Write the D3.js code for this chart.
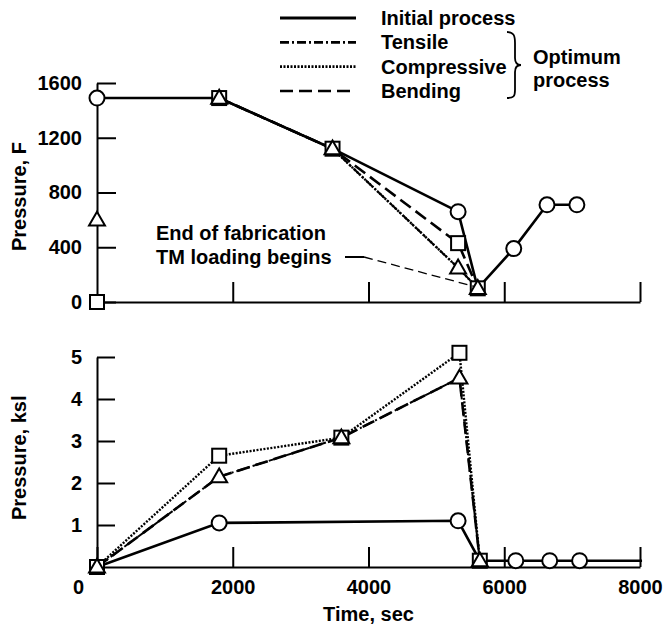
<!DOCTYPE html>
<html>
<head>
<meta charset="utf-8">
<script src="https://cdn.jsdelivr.net/npm/d3@7"></script>
<style>
  body { margin: 0; background: #fff; }
  svg text { font-family: "Liberation Sans", Arial, sans-serif; font-weight: bold; fill: #000; }
</style>
</head>
<body>
<div id="vis"></div>
<script>
// Constants for the frame
const FRAME_WIDTH = 663;
const FRAME_HEIGHT = 629;
const FONT = 20;

// tick values
const TIME_TICKS = [0, 2000, 4000, 6000, 8000];
const TEMP_TICKS = [0, 400, 800, 1200, 1600];
const PRESS_TICKS = [1, 2, 3, 4, 5];

// top panel (temperature, labelled "Pressure, F")
const INIT_TOP_TIME = [0, 1800, 3470, 5320, 5610, 6140, 6630, 7070];
const INIT_TOP_VAL = [1490, 1490, 1120, 660, 100, 390, 710, 710];
const OPT_TOP_TIME = [1800, 3470, 5320, 5610];
const TENSILE_TOP = [1490, 1120, 250, 100];
const COMPRESSIVE_TOP = [1490, 1120, 250, 100];
const BENDING_TOP = [1490, 1120, 430, 100];
const START_SQUARE_TOP = 0;
const START_TRIANGLE_TOP = 600;

// bottom panel (pressure, ksi)
const INIT_BOT_TIME = [0, 1800, 5320, 5640, 6170, 6670, 7110, 8030];
const INIT_BOT_VAL = [0, 1.05, 1.1, 0.15, 0.15, 0.15, 0.15, 0.15];
const INIT_BOT_CIRCLES = [1, 2, 4, 5, 6];
const OPT_BOT_TIME = [0, 1800, 3600, 5340, 5640];
const TENSILE_BOT = [0, 2.15, 3.08, 4.5, 0.15];
const COMPRESSIVE_BOT = [0, 2.65, 3.08, 5.1, 0.15];
const BENDING_BOT = [0, 2.15, 3.08, 4.5, 0.15];

// legend
const LEGEND_LABELS = ["Initial process", "Tensile", "Compressive", "Bending"];
const DASHES = {solid: null, dashdot: "9,3,2,3", dotted: "2,1.5", dashed: "13,6"};
const LEGEND_STYLES = ["solid", "dashdot", "dotted", "dashed"];

const FRAME = d3.select("#vis")
    .append("svg")
    .attr("width", FRAME_WIDTH)
    .attr("height", FRAME_HEIGHT);

// scales
const X_SCALE = d3.scaleLinear().domain([0, 8000]).range([97, 640]);
const Y_TOP = d3.scaleLinear().domain([0, 1600]).range([302, 83]);
const Y_BOT = d3.scaleLinear().domain([0, 5]).range([567, 357]);

// helpers
function zip(xs, ys) { return xs.map((x, i) => ({t: x, v: ys[i]})); }

function drawLine(yScale, pts, style, width) {
    const line = d3.line().x(d => X_SCALE(d.t)).y(d => yScale(d.v));
    FRAME.append("path")
        .datum(pts)
        .attr("d", line)
        .attr("fill", "none")
        .attr("stroke", "#000")
        .attr("stroke-width", width)
        .attr("stroke-dasharray", DASHES[style]);
}

function drawMarkers(yScale, pts, shape) {
    const g = FRAME.append("g").attr("fill", "#fff").attr("stroke", "#000").attr("stroke-width", 2);
    if (shape === "circle") {
        g.selectAll("circle").data(pts).enter().append("circle")
            .attr("cx", d => X_SCALE(d.t)).attr("cy", d => yScale(d.v)).attr("r", 7.5);
    } else if (shape === "square") {
        g.selectAll("rect").data(pts).enter().append("rect")
            .attr("x", d => X_SCALE(d.t) - 7).attr("y", d => yScale(d.v) - 7)
            .attr("width", 14).attr("height", 14);
    } else {
        g.selectAll("path").data(pts).enter().append("path")
            .attr("d", d3.symbol(d3.symbolTriangle, 110))
            .attr("transform", d => "translate(" + X_SCALE(d.t) + "," + (yScale(d.v) + 1) + ")");
    }
}

// ---------- top panel ----------
FRAME.append("g")
    .attr("transform", "translate(" + X_SCALE(0) + ",0)")
    .call(d3.axisLeft(Y_TOP).tickValues(TEMP_TICKS).tickFormat(d3.format("d"))
        .tickSize(-19).tickSizeOuter(0).tickPadding(15))
    .call(g => g.selectAll("line, path").attr("stroke-width", 2))
    .call(g => g.selectAll("text").attr("font-size", FONT).attr("font-family", null));
FRAME.append("g")
    .attr("transform", "translate(0," + Y_TOP(0) + ")")
    .call(d3.axisBottom(X_SCALE).tickValues(TIME_TICKS.slice(1)).tickSize(-20).tickSizeOuter(0).tickFormat(""))
    .call(g => g.selectAll("line, path").attr("stroke-width", 2));

FRAME.append("text")
    .attr("transform", "translate(26," + Y_TOP(770) + ") rotate(-90)")
    .attr("text-anchor", "middle")
    .attr("font-size", FONT)
    .text("Pressure, F");

const INIT_TOP = zip(INIT_TOP_TIME, INIT_TOP_VAL);
drawLine(Y_TOP, INIT_TOP, "solid", 2.6);
drawLine(Y_TOP, zip(OPT_TOP_TIME, BENDING_TOP), "dashed", 2.6);
drawLine(Y_TOP, zip(OPT_TOP_TIME, COMPRESSIVE_TOP), "dotted", 2.4);
drawLine(Y_TOP, zip(OPT_TOP_TIME, TENSILE_TOP), "dashdot", 2);

drawMarkers(Y_TOP, INIT_TOP.filter((d, i) => i !== 1 && i !== 2 && i !== 4), "circle");
drawMarkers(Y_TOP, [{t: 0, v: START_SQUARE_TOP}].concat(zip(OPT_TOP_TIME, BENDING_TOP)), "square");
drawMarkers(Y_TOP, [{t: 0, v: START_TRIANGLE_TOP}].concat(zip(OPT_TOP_TIME, TENSILE_TOP)), "triangle");

// annotation
FRAME.append("text").attr("x", 156).attr("y", 240).attr("font-size", FONT).text("End of fabrication");
FRAME.append("text").attr("x", 156).attr("y", 264).attr("font-size", FONT).text("TM loading begins");
FRAME.append("line")
    .attr("x1", 345).attr("y1", 257).attr("x2", 364).attr("y2", 257)
    .attr("stroke", "#000").attr("stroke-width", 2);
FRAME.append("line")
    .attr("x1", 364).attr("y1", 257)
    .attr("x2", X_SCALE(OPT_TOP_TIME[3]) - 4).attr("y2", Y_TOP(BENDING_TOP[3]) - 2)
    .attr("stroke", "#000").attr("stroke-width", 1.3).attr("stroke-dasharray", "9,5");

// ---------- bottom panel ----------
FRAME.append("g")
    .attr("transform", "translate(" + X_SCALE(0) + ",0)")
    .call(d3.axisLeft(Y_BOT).tickValues(PRESS_TICKS).tickFormat(d3.format("d"))
        .tickSize(-18).tickSizeOuter(0).tickPadding(15))
    .call(g => g.selectAll("line, path").attr("stroke-width", 2))
    .call(g => g.selectAll("text").attr("font-size", FONT).attr("font-family", null));
FRAME.append("g")
    .attr("transform", "translate(0," + Y_BOT(0) + ")")
    .call(d3.axisBottom(X_SCALE).tickValues(TIME_TICKS).tickFormat(d3.format("d"))
        .tickSize(-20).tickSizeOuter(0).tickPadding(13))
    .call(g => g.selectAll("line, path").attr("stroke-width", 2))
    .call(g => g.selectAll("text").attr("font-size", FONT).attr("font-family", null))
    .call(g => g.selectAll(".tick").filter(d => d === 0).select("text").attr("x", -19));

FRAME.append("text")
    .attr("transform", "translate(26," + Y_BOT(2.6) + ") rotate(-90)")
    .attr("text-anchor", "middle")
    .attr("font-size", FONT)
    .text("Pressure, ksl");
FRAME.append("text")
    .attr("x", X_SCALE(4000)).attr("y", 621)
    .attr("text-anchor", "middle")
    .attr("font-size", FONT)
    .text("Time, sec");

const INIT_BOT = zip(INIT_BOT_TIME, INIT_BOT_VAL);
drawLine(Y_BOT, INIT_BOT, "solid", 2.6);
drawLine(Y_BOT, zip(OPT_BOT_TIME, BENDING_BOT), "dashed", 2.6);
drawLine(Y_BOT, zip(OPT_BOT_TIME, TENSILE_BOT), "dashdot", 2);
drawLine(Y_BOT, zip(OPT_BOT_TIME, COMPRESSIVE_BOT), "dotted", 2.4);

drawMarkers(Y_BOT, INIT_BOT.filter((d, i) => INIT_BOT_CIRCLES.includes(i)), "circle");
drawMarkers(Y_BOT, zip(OPT_BOT_TIME, COMPRESSIVE_BOT), "square");
drawMarkers(Y_BOT, zip(OPT_BOT_TIME, BENDING_BOT), "triangle");

// ---------- legend ----------
const LEGEND_Y = d3.scalePoint().domain(LEGEND_LABELS).range([18, 91]);
const LEG = FRAME.append("g");
LEGEND_LABELS.forEach((lab, i) => {
    LEG.append("line")
        .attr("x1", 280).attr("x2", 356)
        .attr("y1", LEGEND_Y(lab)).attr("y2", LEGEND_Y(lab))
        .attr("stroke", "#000")
        .attr("stroke-width", i === 0 ? 3 : 2.6)
        .attr("stroke-dasharray", DASHES[LEGEND_STYLES[i]]);
    LEG.append("text")
        .attr("x", 381).attr("y", LEGEND_Y(lab) + 7)
        .attr("font-size", FONT)
        .text(lab);
});
// brace for optimum group
LEG.append("path")
    .attr("d", "M507,32 C514,32 515,36 515,43 L515,58 C515,63 517,65 521,65 C517,65 515,67 515,72 L515,90 C515,96 514,98 507,98")
    .attr("fill", "none").attr("stroke", "#000").attr("stroke-width", 1.8);
LEG.append("text").attr("x", 533).attr("y", 64).attr("font-size", FONT).text("Optimum");
LEG.append("text").attr("x", 533).attr("y", 87).attr("font-size", FONT).text("process");
</script>
</body>
</html>
